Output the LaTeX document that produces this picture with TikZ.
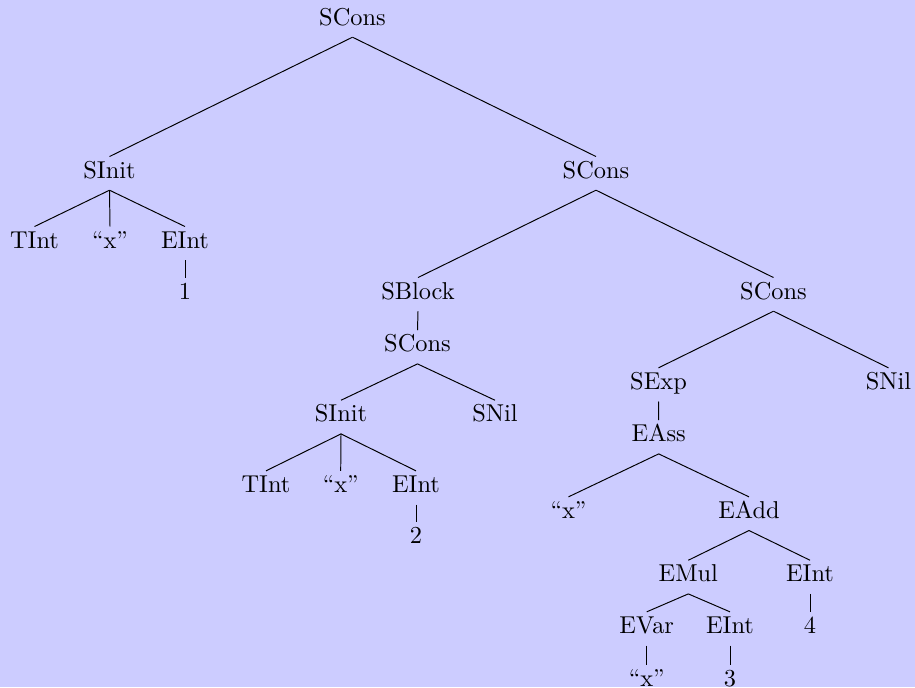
\documentclass[tikz,border=0pt]{standalone}
\usepackage{xcolor}
\usepackage{tikz}

\begin{document}
\begin{tikzpicture}[
  x=0.41pt, y=-0.41pt,
  every node/.style={anchor=base, inner sep=2pt, text height=6.6pt, text depth=2.8pt},
  edge/.style={draw, line width=0.4pt}
]
\fill[blue!20] (0,0) rectangle (915,687);
\useasboundingbox (0,0) rectangle (915,687);

\node (scons1) at (352.5,25) {SCons};
\node (sinit1) at (109.5,178) {SInit};
\node (scons2) at (596,178) {SCons};
\node (tint1) at (34.5,248) {TInt};
\node (xa) at (110,248) {``x''};
\node (eint1) at (185,248) {EInt};
\node (one) at (185,299) {1};
\node (sblock) at (418,299) {SBlock};
\node (scons3) at (773.5,299) {SCons};
\node (scons4) at (417.5,351.7) {SCons};
\node (sinit2) at (341,421.7) {SInit};
\node (snil1) at (495,421.7) {SNil};
\node (tint2) at (266,492.3) {TInt};
\node (xb) at (340.7,492.3) {``x''};
\node (eint2) at (416,492.3) {EInt};
\node (two) at (416,543.3) {2};
\node (sexp) at (658.5,389.3) {SExp};
\node (snil2) at (888.5,389.3) {SNil};
\node (eass) at (658.7,441.7) {EAss};
\node (xc) at (568.5,518.3) {``x''};
\node (eadd) at (749,518.3) {EAdd};
\node (emul) at (688.3,581.7) {EMul};
\node (eint3) at (810,581.7) {EInt};
\node (evar) at (646.7,633.3) {EVar};
\node (eint4) at (730,633.3) {EInt};
\node (four) at (810,633.3) {4};
\node (xd) at (646.7,686) {``x''};
\node (three) at (730,686) {3};

\foreach \p/\c in {scons1/sinit1, scons1/scons2, sinit1/tint1, sinit1/xa, sinit1/eint1,
  eint1/one, scons2/sblock, scons2/scons3, sblock/scons4, scons4/sinit2, scons4/snil1,
  sinit2/tint2, sinit2/xb, sinit2/eint2, eint2/two, scons3/sexp, scons3/snil2,
  sexp/eass, eass/xc, eass/eadd, eadd/emul, eadd/eint3, emul/evar, emul/eint4,
  evar/xd, eint4/three, eint3/four}
  \draw[edge] (\p.south) -- (\c.north);
\end{tikzpicture}
\end{document}
